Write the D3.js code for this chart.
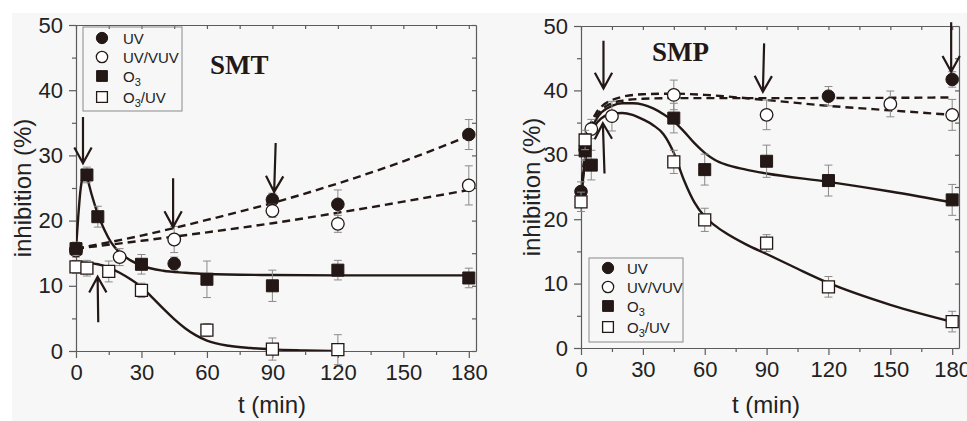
<!DOCTYPE html>
<html>
<head>
<meta charset="utf-8">
<script src="https://cdn.jsdelivr.net/npm/d3@7"></script>
<style>
  body { margin: 0; background: #fff; }
  svg { display: block; }
  .tick text { font-family: 'Liberation Sans', Arial, sans-serif; fill: #222; }
</style>
</head>
<body>
<div id="chart"></div>
<script>
// ---- data ----
const xTicks = [0, 30, 60, 90, 120, 150, 180]
const xMinor = [15, 45, 75, 105, 135, 165]
const yTicks = [0, 10, 20, 30, 40, 50]
const yMinor = [5, 15, 25, 35, 45]
const seriesNames = ['UV', 'UV/VUV', 'O3', 'O3/UV']

// SMT measured points [t, value, error]
const smtUV     = [[0, 15.6, 0.8], [45, 13.4, 1.0], [90, 23.2, 1.0], [120, 22.5, 2.2], [180, 33.2, 2.3]]
const smtUVVUV  = [[0, 15.4, 1.0], [20, 14.4, 1.3], [45, 17.1, 2.0], [90, 21.5, 1.0], [120, 19.5, 1.3], [180, 25.4, 3.0]]
const smtO3     = [[0, 15.7, 1.0], [5, 27.0, 1.2], [10, 20.6, 1.6], [30, 13.3, 1.5], [60, 11.0, 2.8], [90, 10.0, 2.4], [120, 12.4, 1.5], [180, 11.2, 1.5]]
const smtO3UV   = [[0, 12.9, 1.0], [5, 12.7, 1.2], [15, 12.2, 1.6], [30, 9.3, 1.1], [60, 3.2, 1.0], [90, 0.3, 1.7], [120, 0.2, 2.3]]

// SMT fitted curves [t, value]
const smtUVFit    = [[0, 15.7], [30, 17.7], [60, 20.1], [90, 22.7], [120, 25.7], [150, 29.1], [180, 33.0]]
const smtUVVUVFit = [[0, 15.7], [30, 16.9], [60, 18.2], [90, 19.6], [120, 21.2], [150, 22.9], [180, 24.7]]
const smtO3Fit    = [[0, 15.6], [1, 20.5], [2, 24.5], [3, 26.6], [4, 27.2], [5, 26.6], [7, 24.2], [10, 21.0], [13, 18.6], [16, 16.7], [20, 15.1], [25, 13.9], [30, 13.1], [40, 12.3], [50, 12.0], [60, 11.8], [90, 11.65], [120, 11.6], [180, 11.6]]
const smtO3UVFit  = [[0, 13.6], [5, 13.5], [10, 13.3], [15, 12.8], [20, 12.0], [25, 11.0], [30, 9.8], [35, 8.2], [40, 6.5], [45, 4.9], [50, 3.5], [55, 2.4], [60, 1.6], [70, 0.8], [80, 0.45], [90, 0.25], [105, 0.1], [117, 0]]

// SMP measured points [t, value, error]
const smpUV     = [[0, 24.3, 1.5], [2, 30.8, 1.5], [120, 39.1, 1.5], [180, 41.7, 1.2]]
const smpUVVUV  = [[5, 34.0, 1.5], [15, 36.0, 2.3], [45, 39.3, 2.3], [90, 36.2, 2.3], [150, 37.9, 2.0], [180, 36.2, 2.4]]
const smpO3     = [[2, 30.6, 1.5], [5, 28.4, 2.3], [45, 35.7, 2.3], [60, 27.7, 2.4], [90, 29.0, 2.5], [120, 26.0, 2.4], [180, 23.0, 2.4]]
const smpO3UV   = [[0, 22.7, 1.5], [2, 32.3, 1.5], [45, 28.9, 1.8], [60, 19.9, 1.8], [90, 16.3, 1.3], [120, 9.5, 1.6], [180, 4.1, 1.6]]

// SMP fitted curves [t, value]
const smpUVFit    = [[0, 24.0], [2, 30.0], [4, 33.5], [7, 35.8], [10, 37.0], [15, 38.0], [20, 38.4], [30, 38.7], [45, 38.8], [90, 38.8], [180, 38.9]]
const smpUVVUVFit = [[0, 24.0], [2, 30.5], [4, 34.0], [7, 36.3], [10, 37.5], [15, 38.5], [20, 39.0], [30, 39.4], [45, 39.5], [60, 39.3], [90, 38.5], [120, 37.6], [150, 36.9], [180, 36.2]]
const smpO3Fit    = [[0, 23.5], [2, 29.5], [4, 32.8], [7, 35.3], [10, 36.6], [15, 37.6], [20, 38.0], [25, 38.0], [30, 37.8], [35, 37.2], [40, 36.3], [45, 35.2], [50, 33.6], [55, 31.8], [60, 30.3], [65, 29.2], [70, 28.5], [80, 27.7], [90, 27.1], [120, 25.8], [150, 24.3], [182, 22.5]]
const smpO3UVFit  = [[0, 23.0], [2, 29.0], [4, 32.2], [7, 34.6], [10, 35.7], [15, 36.4], [20, 36.5], [25, 36.2], [30, 35.5], [35, 34.6], [40, 33.2], [45, 30.3], [50, 26.0], [55, 22.6], [60, 20.4], [65, 19.0], [70, 17.9], [80, 16.1], [90, 14.6], [105, 12.3], [120, 10.1], [150, 6.7], [182, 3.9]]

// annotation arrows [t, from value, t, to value]
const smtArrows = [[3.2, 35.9, 3.2, 28.8], [44.5, 26.5, 44.5, 19.0], [91.5, 31.9, 90.8, 24.4], [10.2, 4.4, 9.9, 11.4]]
const smpArrows = [[10.9, 47.7, 10.9, 40.3], [88.8, 47.3, 88.2, 39.8], [179.5, 50.6, 179.5, 42.9], [11.4, 27.1, 10.6, 34.9]]

// ---- drawing ----
const W = 967, H = 421
const ink = '#231815'

const svg = d3.select('#chart').append('svg')
  .attr('width', W)
  .attr('height', H)

svg.append('rect')
  .attr('x', 12).attr('y', 13)
  .attr('width', W - 12).attr('height', H - 13)
  .attr('fill', '#f7f7f7')

svg.append('defs').selectAll('clipPath')
  .data(['left', 'right'])
  .enter().append('clipPath')
    .attr('id', d => 'clip-' + d)
    .append('rect')

function drawPanel(cfg) {
  const x = d3.scaleLinear().domain([0, 183.3]).range([cfg.left, cfg.right])
  const y = d3.scaleLinear().domain([0, 50]).range([cfg.bottom, cfg.top])
  const g = svg.append('g')

  d3.select('#clip-' + cfg.id + ' rect')
    .attr('x', cfg.left).attr('y', cfg.top)
    .attr('width', cfg.right - cfg.left).attr('height', cfg.bottom - cfg.top)

  // frame and axes
  function styleAxis(a) {
    a.selectAll('path, line').attr('stroke', '#5c5c5c').attr('stroke-width', 1.2)
    a.selectAll('text').attr('font-size', 22)
  }
  g.append('g').attr('transform', 'translate(0,' + cfg.bottom + ')')
    .call(d3.axisBottom(x).tickValues(xTicks).tickSize(7).tickSizeOuter(0).tickPadding(6))
    .call(styleAxis)
  g.append('g').attr('transform', 'translate(0,' + cfg.bottom + ')')
    .call(d3.axisBottom(x).tickValues(xMinor).tickSize(4).tickFormat(''))
    .call(styleAxis).select('.domain').remove()
  g.append('g').attr('transform', 'translate(' + cfg.left + ',0)')
    .call(d3.axisLeft(y).tickValues(yTicks).tickSize(7).tickSizeOuter(0).tickPadding(6))
    .call(styleAxis)
  g.append('g').attr('transform', 'translate(' + cfg.left + ',0)')
    .call(d3.axisLeft(y).tickValues(yMinor).tickSize(4).tickFormat(''))
    .call(styleAxis).select('.domain').remove()
  // mirrored inner ticks on top and right
  g.append('g').attr('transform', 'translate(0,' + cfg.top + ')')
    .call(d3.axisBottom(x).tickValues(xTicks.concat(xMinor)).tickSize(4).tickSizeOuter(0).tickFormat(''))
    .call(styleAxis)
  g.append('g').attr('transform', 'translate(' + cfg.right + ',0)')
    .call(d3.axisLeft(y).tickValues(yTicks.concat(yMinor)).tickSize(4).tickSizeOuter(0).tickFormat(''))
    .call(styleAxis)
  g.selectAll('.tick text').attr('fill', '#222')

  // axis titles
  g.append('text')
    .attr('x', (cfg.left + cfg.right) / 2 - 4)
    .attr('y', 413)
    .attr('text-anchor', 'middle')
    .attr('font-family', "'Liberation Sans', Arial, sans-serif")
    .attr('font-size', 24)
    .attr('fill', '#222')
    .text('t (min)')
  g.append('text')
    .attr('transform', 'translate(' + cfg.yTitleX + ',' + ((cfg.top + cfg.bottom) / 2) + ') rotate(-90)')
    .attr('text-anchor', 'middle')
    .attr('font-family', "'Liberation Sans', Arial, sans-serif")
    .attr('font-size', 24)
    .attr('fill', '#222')
    .text('inhibition (%)')

  // panel title
  g.append('text')
    .attr('x', cfg.titleX).attr('y', cfg.titleY)
    .attr('font-family', "'Liberation Serif', 'Times New Roman', serif")
    .attr('font-weight', 'bold')
    .attr('font-size', 27)
    .attr('fill', ink)
    .text(cfg.title)

  // fitted curves
  const line = d3.line()
    .x(d => x(d[0]))
    .y(d => y(d[1]))
    .curve(d3.curveMonotoneX)
  const curves = g.append('g').attr('clip-path', 'url(#clip-' + cfg.id + ')')
  cfg.fits.forEach((f, i) => {
    curves.append('path')
      .attr('d', line(f))
      .attr('fill', 'none')
      .attr('stroke', ink)
      .attr('stroke-width', 2.4)
      .attr('stroke-dasharray', i < 2 ? '8,5' : null)
  })

  // error bars and markers
  cfg.points.forEach((pts, i) => {
    const s = g.append('g').attr('class', 'series-' + i)
    s.selectAll('.err')
      .data(pts)
      .enter().append('path')
        .attr('class', 'err')
        .attr('d', d => {
          const cx = x(d[0]), y0 = y(d[1] - d[2]), y1 = y(d[1] + d[2])
          return 'M' + cx + ',' + y0 + 'V' + y1 +
            'M' + (cx - 4) + ',' + y0 + 'H' + (cx + 4) +
            'M' + (cx - 4) + ',' + y1 + 'H' + (cx + 4)
        })
        .attr('stroke', '#8a8a8a')
        .attr('stroke-width', 1)
        .attr('fill', 'none')
    s.selectAll('.pt')
      .data(pts)
      .enter().append('path')
        .attr('class', 'pt')
        .attr('transform', d => 'translate(' + x(d[0]) + ',' + y(d[1]) + ')')
        .call(marker, i)
  })

  // arrows
  cfg.arrows.forEach(a => {
    const x0 = x(a[0]), y0 = y(a[1]), x1 = x(a[2]), y1 = y(a[3])
    const ang = Math.atan2(y1 - y0, x1 - x0)
    const len = 18, spread = 0.5
    const hx1 = x1 - len * Math.cos(ang - spread), hy1 = y1 - len * Math.sin(ang - spread)
    const hx2 = x1 - len * Math.cos(ang + spread), hy2 = y1 - len * Math.sin(ang + spread)
    g.append('path')
      .attr('d', 'M' + x0 + ',' + y0 + 'L' + x1 + ',' + y1 +
        'M' + hx1 + ',' + hy1 + 'L' + x1 + ',' + y1 + 'L' + hx2 + ',' + hy2)
      .attr('fill', 'none')
      .attr('stroke', ink)
      .attr('stroke-width', 2.2)
  })

  // legend
  const lg = g.append('g').attr('transform', 'translate(' + cfg.legend.x + ',' + cfg.legend.y + ')')
  lg.append('rect')
    .attr('width', cfg.legend.w).attr('height', cfg.legend.h)
    .attr('fill', 'none')
    .attr('stroke', '#8a8a8a')
    .attr('stroke-width', 1)
  seriesNames.forEach((name, i) => {
    const ry = cfg.legend.rows[i]
    lg.append('path')
      .attr('transform', 'translate(' + cfg.legend.mx + ',' + ry + ')')
      .call(marker, i, 0.9)
    const t = lg.append('text')
      .attr('x', cfg.legend.tx).attr('y', ry + 5.5)
      .attr('font-family', "'Liberation Sans', Arial, sans-serif")
      .attr('font-size', 15)
      .attr('fill', '#222')
    if (name.startsWith('O3')) {
      t.append('tspan').text('O')
      t.append('tspan').attr('font-size', 11).attr('dy', 4).text('3')
      if (name.length > 2) t.append('tspan').attr('dy', -4).text(name.slice(2))
    } else {
      t.text(name)
    }
  })
}

function marker(sel, i, k) {
  k = k || 1
  const r = 6.3 * k, h = 6 * k
  const circle = 'M' + (-r) + ',0A' + r + ',' + r + ' 0 1,0 ' + r + ',0A' + r + ',' + r + ' 0 1,0 ' + (-r) + ',0Z'
  const square = 'M' + (-h) + ',' + (-h) + 'H' + h + 'V' + h + 'H' + (-h) + 'Z'
  sel.attr('d', i < 2 ? circle : square)
    .attr('fill', i % 2 === 0 ? ink : '#fff')
    .attr('stroke', ink)
    .attr('stroke-width', i % 2 === 0 ? 1 : 1.3)
}

drawPanel({
  id: 'left', title: 'SMT', titleX: 210, titleY: 74,
  left: 76, right: 476, top: 25, bottom: 351, yTitleX: 31,
  fits: [smtUVFit, smtUVVUVFit, smtO3Fit, smtO3UVFit],
  points: [smtUV, smtUVVUV, smtO3, smtO3UV],
  arrows: smtArrows,
  legend: { x: 83, y: 27, w: 99, h: 84, mx: 19, tx: 40, rows: [11, 30, 49, 70] }
})

drawPanel({
  id: 'right', title: 'SMP', titleX: 652, titleY: 61,
  left: 581, right: 959, top: 26, bottom: 348, yTitleX: 540,
  fits: [smpUVFit, smpUVVUVFit, smpO3Fit, smpO3UVFit],
  points: [smpUV, smpUVVUV, smpO3, smpO3UV],
  arrows: smpArrows,
  legend: { x: 589, y: 258, w: 94, h: 84, mx: 19, tx: 38, rows: [10, 29, 48, 69] }
})
</script>
</body>
</html>
